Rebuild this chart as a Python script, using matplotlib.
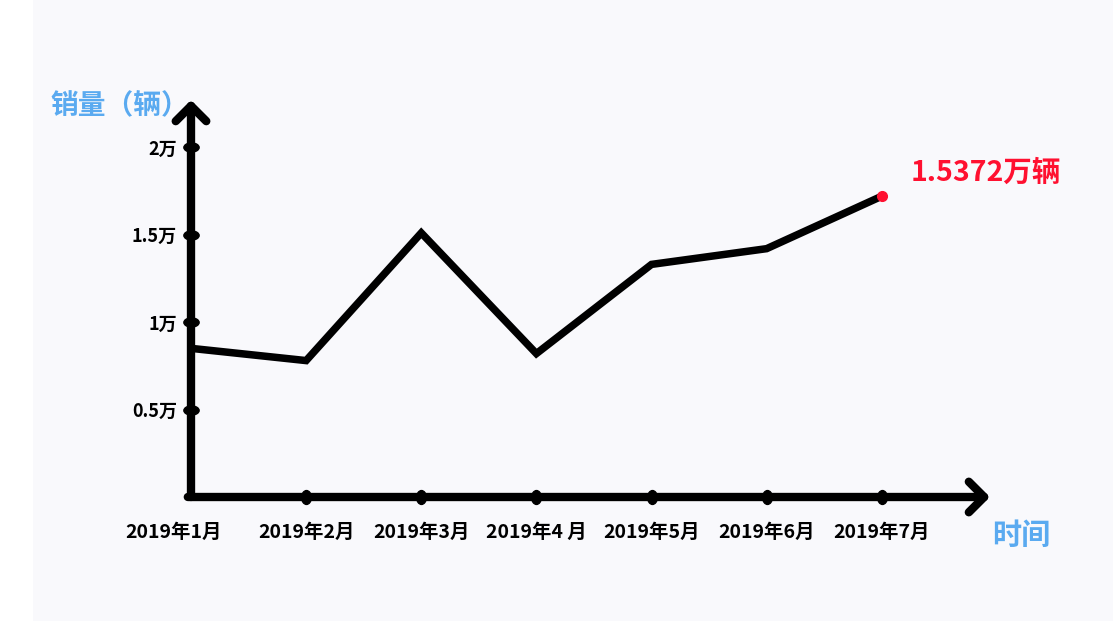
import matplotlib
matplotlib.use('Agg')
import matplotlib.pyplot as plt
from matplotlib.patches import Rectangle
from matplotlib.path import Path
import matplotlib.transforms as mtransforms

plt.rcParams['font.family'] = ['Noto Sans CJK SC', 'DejaVu Sans']

months = ['2019年1月', '2019年2月', '2019年3月', '2019年4 月',
          '2019年5月', '2019年6月', '2019年7月']
sales = [0.85, 0.78, 1.51, 0.82, 1.33, 1.42, 1.72]   # 万辆
yticks = [0.5, 1, 1.5, 2]
ytick_labels = ['0.5万', '1万', '1.5万', '2万']
last_label = '1.5372万辆'

blue = '#5aaaf0'
red = '#ff1030'

fig = plt.figure(figsize=(11.13, 6.21), dpi=100)
fig.patch.set_facecolor('white')
fig.patches.append(Rectangle((33 / 1113, 0), 1 - 33 / 1113, 1,
                             transform=fig.transFigure, facecolor='#f9f9fc',
                             edgecolor='none', zorder=-10))

ax = fig.add_axes([191 / 1113, 1 - 497 / 621, (990 - 191) / 1113, (497 - 100) / 621])
ax.set_facecolor('none')
ax.set_zorder(1)
x = list(range(len(months)))
ax.set_xlim(0, 6.94)
ax.set_ylim(0, 2.27)

ax.plot(x, sales, color='black', lw=5.4, solid_joinstyle='miter',
        solid_capstyle='butt', zorder=3, clip_on=False)
ax.plot(x[-1], sales[-1], 'o', color=red, ms=7, zorder=4, clip_on=False)
ax.annotate(last_label, (x[-1], sales[-1]), xytext=(21, 17),
            textcoords='offset points', color=red, fontsize=20.5,
            fontweight='bold', va='center', ha='left')

for s in ax.spines.values():
    s.set_visible(False)

# axes drawn as thick arrows
arrow = dict(arrowstyle='->,head_length=0.55,head_width=0.55', lw=6,
             color='black', capstyle='round', joinstyle='round',
             shrinkA=0, shrinkB=0, mutation_scale=20)
ax.annotate('', xy=(0, 1), xytext=(0, 0), xycoords='axes fraction',
            arrowprops=arrow, zorder=5)
ax.annotate('', xy=(1, 0), xytext=(-0.004, 0), xycoords='axes fraction',
            arrowprops=arrow, zorder=5)

# rounded tick blobs
circ = Path.unit_circle()
vblob = circ.transformed(mtransforms.Affine2D().scale(0.7, 1))
hblob = circ.transformed(mtransforms.Affine2D().scale(1, 0.6))
ax.plot(x[1:], [0] * (len(x) - 1), ls='none', marker=vblob, ms=10,
        color='black', zorder=6, clip_on=False)
ax.plot([0] * len(yticks), yticks, ls='none', marker=hblob, ms=11,
        color='black', zorder=6, clip_on=False)

ax.set_xticks(x)
ax.set_xticklabels(months, fontsize=14, fontweight='bold')
ax.set_yticks(yticks)
ax.set_yticklabels(ytick_labels, fontsize=13, fontweight='bold')
ax.tick_params(axis='x', length=0, pad=19)
ax.tick_params(axis='y', length=0, pad=10)

# first month label sits a little left of its tick
lab0 = ax.get_xticklabels()[0]
lab0.set_transform(lab0.get_transform() +
                   mtransforms.ScaledTranslation(-17.5 / 100, 0, fig.dpi_scale_trans))

fig.text(50 / 1113, 1 - 106 / 621, '销量（辆）', color=blue, fontsize=20,
         fontweight='bold', va='center', ha='left')
fig.text(992 / 1113, 1 - 535 / 621, '时间', color=blue, fontsize=21,
         fontweight='bold', va='center', ha='left')

fig.savefig('out.png', dpi=100)
